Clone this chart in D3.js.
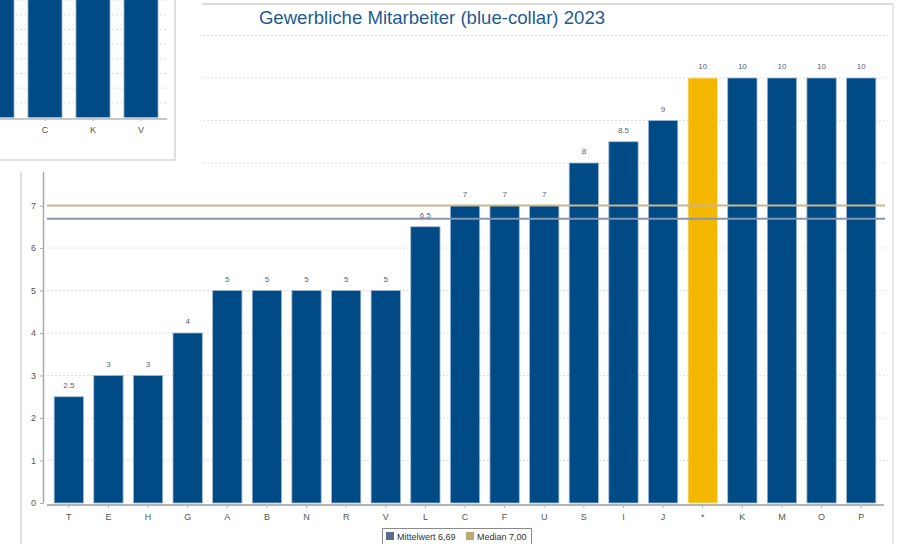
<html>
<head>
<meta charset="UTF-8" />
<style>
body { margin:0; background:#fff; }
text { font-family:"Liberation Sans", Arial, sans-serif; }
</style>
</head>
<body>
<script src="https://d3js.org/d3.v7.min.js"></script>
<script>
var width = 902;
var height = 544;

// main chart data
var categories = ["T","E","H","G","A","B","N","R","V","L","C","F","U","S","I","J","*","K","M","O","P"];
var values = [2.5,3,3,4,5,5,5,5,5,6.5,7,7,7,8,8.5,9,10,10,10,10,10];
var highlight = "*";
var yTicks = [0,1,2,3,4,5,6,7,8,9,10,11];
var mean = 6.69;
var median = 7.00;
var legendLabels = ["Mittelwert 6,69","Median 7,00"];

// the small panel lying over the top left corner
var insetCategories = ["H","C","K","V"];
var insetValues = [10,10,10,10];
var insetTicks = [1,2,3,4,5,6,7,8,9,10];

var blue = "#004a86", gold = "#f4b800";
var meanColor = "#8796ad", medianColor = "#c9b78b";

var svg = d3.select("body")
			.append("svg")
			.attr("width",width)
			.attr("height",height);

// panel frame
svg.append("line").attr("x1",21).attr("x2",893).attr("y1",4).attr("y2",4)
   .attr("stroke","#dcdcdc").attr("stroke-width",2);
svg.append("line").attr("x1",21).attr("x2",21).attr("y1",4).attr("y2",height)
   .attr("stroke","#d6d6d6").attr("stroke-width",1.5);
svg.append("line").attr("x1",893).attr("x2",893).attr("y1",4).attr("y2",height)
   .attr("stroke","#e2e2e2").attr("stroke-width",1.5);

svg.append("text")
   .attr("x",432).attr("y",24)
   .attr("text-anchor","middle")
   .attr("font-size",18.6)
   .attr("fill","#1f5b92")
   .text("Gewerbliche Mitarbeiter (blue-collar) 2023");

var x = d3.scaleBand().domain(categories).range([49,881]).paddingInner(0.26).paddingOuter(0.13);
var y = d3.scaleLinear().domain([0,12]).range([503,-7]);

// gridlines
svg.append("g").selectAll("line")
   .data(yTicks.filter(d => d > 0))
   .enter().append("line")
   .attr("x1",47).attr("x2",885)
   .attr("y1",d => y(d)).attr("y2",d => y(d))
   .attr("stroke","#dedede")
   .attr("stroke-dasharray","2,2");

// bars
svg.append("g").selectAll("rect")
   .data(categories)
   .enter().append("rect")
   .attr("x",d => x(d))
   .attr("width",x.bandwidth())
   .attr("y",(d,i) => y(values[i]))
   .attr("height",(d,i) => y(0) - y(values[i]))
   .attr("fill",d => d == highlight ? gold : blue)
   .attr("stroke",d => d == highlight ? "#fbe6a0" : "#9fb9d6")
   .attr("stroke-width",0.8);

// value labels
svg.append("g").selectAll("text")
   .data(categories)
   .enter().append("text")
   .attr("x",d => x(d) + x.bandwidth()/2)
   .attr("y",(d,i) => y(values[i]) - 9)
   .attr("text-anchor","middle")
   .attr("font-size",8)
   .attr("fill","#56637c")
   .text((d,i) => values[i]);

// mean and median lines
svg.append("line").attr("x1",47).attr("x2",885)
   .attr("y1",y(median)).attr("y2",y(median))
   .attr("stroke",medianColor).attr("stroke-width",2);
svg.append("line").attr("x1",47).attr("x2",885)
   .attr("y1",y(mean)).attr("y2",y(mean))
   .attr("stroke",meanColor).attr("stroke-width",2);

// x axis
var xAxis = svg.append("g").attr("transform","translate(0,505)")
   .call(d3.axisBottom(x).tickSize(3).tickPadding(6).tickSizeOuter(0));
xAxis.select(".domain").attr("d","M47,0H884").attr("stroke","#b4b4b4").attr("stroke-width",2);
xAxis.selectAll(".tick line").attr("stroke","#b4b4b4");
xAxis.selectAll("text").attr("font-size",9).attr("fill","#555").attr("font-family","Liberation Sans, Arial, sans-serif");

// y axis
var yAxis = svg.append("g").attr("transform","translate(43,0)")
   .call(d3.axisLeft(y).tickValues(yTicks).tickSize(3).tickPadding(4).tickSizeOuter(0));
yAxis.select(".domain").attr("stroke","#a8a8a8").attr("stroke-width",1.5);
yAxis.selectAll(".tick line").attr("stroke","#a8a8a8");
yAxis.selectAll("text").attr("font-size",9).attr("fill","#555").attr("font-family","Liberation Sans, Arial, sans-serif");

// legend
var lg = svg.append("g").attr("transform","translate(382,528)");
lg.append("rect").attr("x",0.5).attr("y",0.5).attr("width",149).attr("height",20)
  .attr("fill","#fff").attr("stroke","#8a8a8a");
var lx = [4,84];
var lc = ["#5d6d88","#bba872"];
lg.selectAll(".sw").data(legendLabels).enter().append("rect")
  .attr("x",(d,i) => lx[i]).attr("y",4).attr("width",8).attr("height",8)
  .attr("fill",(d,i) => lc[i]);
lg.selectAll(".lt").data(legendLabels).enter().append("text")
  .attr("x",(d,i) => lx[i] + 11).attr("y",11.5)
  .attr("font-size",9).attr("fill","#333")
  .text(d => d);

// overlapping panel in the top left corner
svg.append("rect").attr("x",0).attr("y",0).attr("width",202).attr("height",172).attr("fill","#fff");
var inset = svg.append("g");
inset.append("rect").attr("x",-2).attr("y",-2).attr("width",177).attr("height",162)
     .attr("fill","#fff").attr("stroke","#e0e0e0").attr("stroke-width",2);
var clip = inset.append("clipPath").attr("id","ic");
clip.append("rect").attr("x",0).attr("y",0).attr("width",174).attr("height",159);
var ig = inset.append("g").attr("clip-path","url(#ic)");

var ix = d3.scaleBand().domain(insetCategories).range([-27,165]).paddingInner(0.29).paddingOuter(0.145);
var iy = d3.scaleLinear().domain([0,8]).range([117.5,0]);

ig.selectAll(".ig").data(insetTicks).enter().append("line")
  .attr("x1",0).attr("x2",167)
  .attr("y1",d => iy(d)).attr("y2",d => iy(d))
  .attr("stroke","#dedede").attr("stroke-dasharray","2,2");
ig.selectAll(".ib").data(insetCategories).enter().append("rect")
  .attr("x",d => ix(d)).attr("width",ix.bandwidth())
  .attr("y",(d,i) => iy(insetValues[i]))
  .attr("height",(d,i) => iy(0) - iy(insetValues[i]))
  .attr("fill",blue).attr("stroke","#9fb9d6").attr("stroke-width",0.8);
var ixa = ig.append("g").attr("transform","translate(0,119)")
  .call(d3.axisBottom(ix).tickSize(2).tickPadding(6).tickSizeOuter(0)
          .tickFormat(d => ix(d) < 0 ? "" : d));
ixa.select(".domain").attr("d","M-30,0H167").attr("stroke","#b4b4b4").attr("stroke-width",1.5);
ixa.selectAll(".tick line").attr("stroke","#b4b4b4");
ixa.selectAll("text").attr("font-size",9).attr("fill","#555").attr("font-family","Liberation Sans, Arial, sans-serif");
</script>
</body>
</html>
